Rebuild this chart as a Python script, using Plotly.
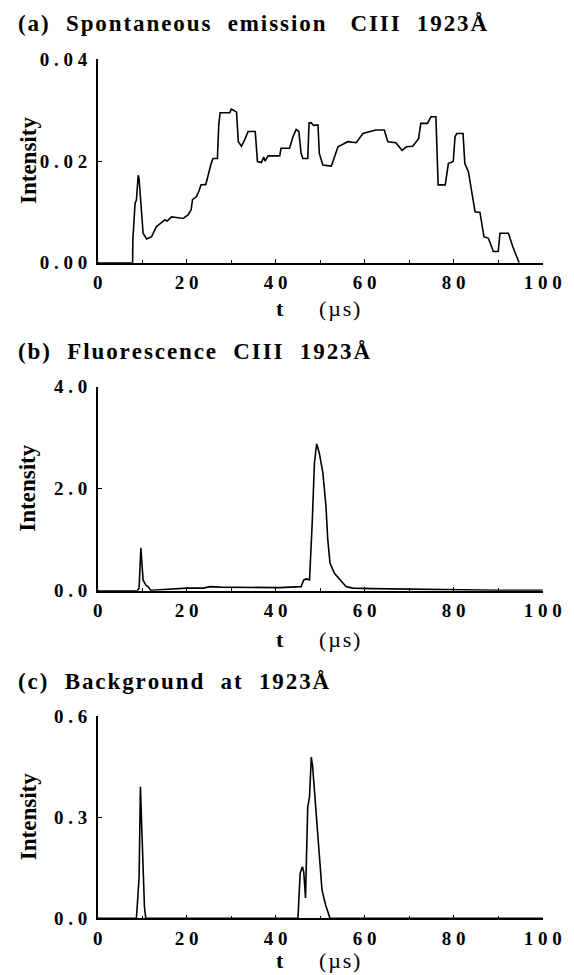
import plotly.graph_objects as go

# ---------------- data ----------------
a_t = [0, 7.84, 7.9, 8.4, 8.7, 9.1, 9.3, 9.7, 10.2, 11.0, 12.1, 13.2, 14.3, 15.1, 15.6,
       16.6, 17.7, 19.2, 20.3, 21.0, 21.3, 22.2, 22.8, 23.2, 24.3, 24.8, 25.4, 25.9,
       26.9, 27.2, 27.5, 29.7, 30.0, 30.5, 31.2, 31.6, 32.3, 33.0, 33.8, 35.4, 35.9,
       36.8, 37.3, 37.6, 38.3, 40.9, 41.2, 43.1, 43.9, 44.6, 45.2, 45.7, 46.1, 47.2,
       47.5, 48.0, 48.5, 49.5, 49.8, 50.6, 52.5, 54.0, 56.2, 58.1, 59.6, 62.5, 64.4,
       65.2, 67.0, 68.4, 69.4, 70.8, 72.1, 72.6, 74.1, 74.9, 76.0, 76.5, 78.1, 78.8,
       79.9, 80.3, 80.7, 82.1, 82.5, 83.3, 84.2, 84.8, 85.9, 86.8, 87.8, 88.9, 90.0,
       90.4, 92.3, 93.3, 94.7]
a_v = [0, 0, 0.0045, 0.0117, 0.0123, 0.0172, 0.0165, 0.0110, 0.0058, 0.00465, 0.0051,
       0.0071, 0.0079, 0.0084, 0.0082, 0.0090, 0.0089, 0.0087, 0.0094, 0.0104, 0.0124,
       0.0130, 0.0142, 0.0153, 0.0154, 0.0172, 0.0192, 0.0205, 0.0205, 0.0270, 0.0295,
       0.0295, 0.0302, 0.0300, 0.0296, 0.0238, 0.0229, 0.0241, 0.0258, 0.0258, 0.0199,
       0.0197, 0.0208, 0.0200, 0.0210, 0.0210, 0.0225, 0.0225, 0.0248, 0.0262, 0.0258,
       0.0215, 0.0205, 0.0205, 0.0275, 0.0275, 0.0270, 0.0271, 0.0215, 0.0192, 0.0190,
       0.0228, 0.0238, 0.0236, 0.0254, 0.0261, 0.0261, 0.0238, 0.0236, 0.0221, 0.0228,
       0.0229, 0.0244, 0.0274, 0.0274, 0.0287, 0.0287, 0.0153, 0.0153, 0.0195, 0.0199,
       0.0248, 0.0254, 0.0254, 0.0195, 0.0179, 0.0136, 0.0100, 0.0099, 0.0051, 0.0048,
       0.0022, 0.0022, 0.0058, 0.0058, 0.0031, 0.0]

b_t = [0, 8.9, 9.3, 9.7, 10.2, 10.8, 11.4, 11.9, 14.0, 16.2, 20.0, 23.8, 25.2, 27.4,
       40.9, 45.7, 46.3, 46.9, 47.6, 48.2, 48.7, 49.2, 49.8, 50.6, 51.3, 51.7, 52.2,
       53.2, 54.3, 55.1, 55.8, 57.3, 61.8, 70.0, 80.0, 90.0, 100.0]
b_v = [0, 0, 0.05, 0.84, 0.21, 0.11, 0.07, 0.01, 0.02, 0.03, 0.05, 0.05, 0.08, 0.07,
       0.06, 0.08, 0.21, 0.23, 0.21, 1.32, 2.50, 2.88, 2.70, 2.31, 1.65, 1.00, 0.54,
       0.34, 0.24, 0.15, 0.08, 0.05, 0.04, 0.03, 0.02, 0.01, 0.01]

c_t = [0, 8.7, 9.3, 9.6, 9.9, 10.1, 10.5, 10.8, 45.0, 45.5, 46.0, 46.3, 46.7, 46.9,
       47.2, 47.6, 48.0, 48.3, 49.1, 49.8, 50.4, 51.2, 51.9, 52.2, 100.0]
c_v = [0, 0, 0.12, 0.39, 0.27, 0.17, 0.035, 0, 0, 0.134, 0.153, 0.138, 0.06, 0.173,
       0.33, 0.36, 0.478, 0.45, 0.30, 0.173, 0.084, 0.04, 0.015, 0, 0]

titles = ["(a)  Spontaneous  emission   CIII  1923Å",
          "(b)  Fluorescence  CIII  1923Å",
          "(c)  Background  at  1923Å"]
x_ticks = [0, 20, 40, 60, 80, 100]
x_labels = ["0", "20", "40", "60", "80", "100"]
y_ticks = [[0, 0.02, 0.04], [0, 2.0, 4.0], [0, 0.3, 0.6]]
y_labels = [["0.00", "0.02", "0.04"], ["0.0", "2.0", "4.0"], ["0.0", "0.3", "0.6"]]
y_ranges = [[0, 0.04], [0, 4.0], [0, 0.6]]
series = [(a_t, a_v), (b_t, b_v), (c_t, c_v)]

# ---------------- layout geometry (pixels) ----------------
W, H = 574, 975
x_left, x_right = 97.7, 542.7
panels_px = [(59.3, 262.7), (386.7, 590.7), (716.0, 918.3)]
title_y = [23, 351, 681]
xtitle_y = [309, 639, 960]
FONT = "Liberation Serif"
HAIR = "\u200a"


def spaced(s, sep):
    return sep.join(list(s))


def tick_spaced(s):
    return " ".join(list(s))


fig = go.Figure()
for i, (t, v) in enumerate(series):
    xa = "x" if i == 0 else f"x{i+1}"
    ya = "y" if i == 0 else f"y{i+1}"
    fig.add_trace(go.Scatter(x=t, y=v, mode="lines", xaxis=xa, yaxis=ya,
                             line=dict(color="black", width=1.6), showlegend=False,
                             hoverinfo="skip"))
    top, bot = panels_px[i]
    kx = "xaxis" if i == 0 else f"xaxis{i+1}"
    ky = "yaxis" if i == 0 else f"yaxis{i+1}"
    fig.layout[kx] = dict(
        domain=[x_left / W, x_right / W], range=[0, 100], anchor=ya, automargin=False,
        showline=True, linecolor="black", linewidth=1.5, showgrid=False, zeroline=False,
        ticks="inside", ticklen=4, tickwidth=1.2, tickcolor="black",
        tickvals=x_ticks, ticktext=[tick_spaced(s) for s in x_labels],
        tickfont=dict(family=FONT, size=19, color="black", weight="bold"),
        ticklabelstandoff=2,
        minor=dict(dtick=10, ticks="inside", ticklen=3, tickwidth=1.2, tickcolor="black"),
        fixedrange=True,
    )
    fig.layout[ky] = dict(
        domain=[1 - bot / H, 1 - top / H], range=y_ranges[i], anchor=xa, automargin=False,
        showline=True, linecolor="black", linewidth=1.5, showgrid=False, zeroline=False,
        ticks="inside", ticklen=5, tickwidth=1.2, tickcolor="black",
        tickvals=y_ticks[i], ticktext=[tick_spaced(s) for s in y_labels[i]],
        tickfont=dict(family=FONT, size=19, color="black", weight="bold"),
        ticklabelstandoff=5,
        fixedrange=True,
    )
    # panel title
    fig.add_annotation(xref="paper", yref="paper", x=16 / W, y=1 - title_y[i] / H,
                       xanchor="left", yanchor="middle", showarrow=False,
                       text="<b>" + spaced(titles[i], HAIR) + "</b>",
                       font=dict(family=FONT, size=23, color="black"))
    # y axis title
    fig.add_annotation(xref="paper", yref="paper", x=28 / W, y=1 - (top + bot) / 2 / H,
                       xanchor="center", yanchor="middle", showarrow=False, textangle=-90,
                       text="<b>Intensity</b>",
                       font=dict(family=FONT, size=23, color="black"))
    # x axis title
    fig.add_annotation(xref="paper", yref="paper", x=280 / W, y=1 - xtitle_y[i] / H,
                       xanchor="center", yanchor="middle", showarrow=False,
                       text="<b>t</b>", font=dict(family=FONT, size=22, color="black"))
    fig.add_annotation(xref="paper", yref="paper", x=317 / W, y=1 - xtitle_y[i] / H,
                       xanchor="left", yanchor="middle", showarrow=False,
                       text=spaced("(µs)", HAIR), font=dict(family=FONT, size=22, color="black"))

fig.update_layout(width=W, height=H, margin=dict(l=0, r=0, t=0, b=0, pad=0),
                  paper_bgcolor="white", plot_bgcolor="white", template="none")

fig.write_html("out.html", config={"displayModeBar": False})
